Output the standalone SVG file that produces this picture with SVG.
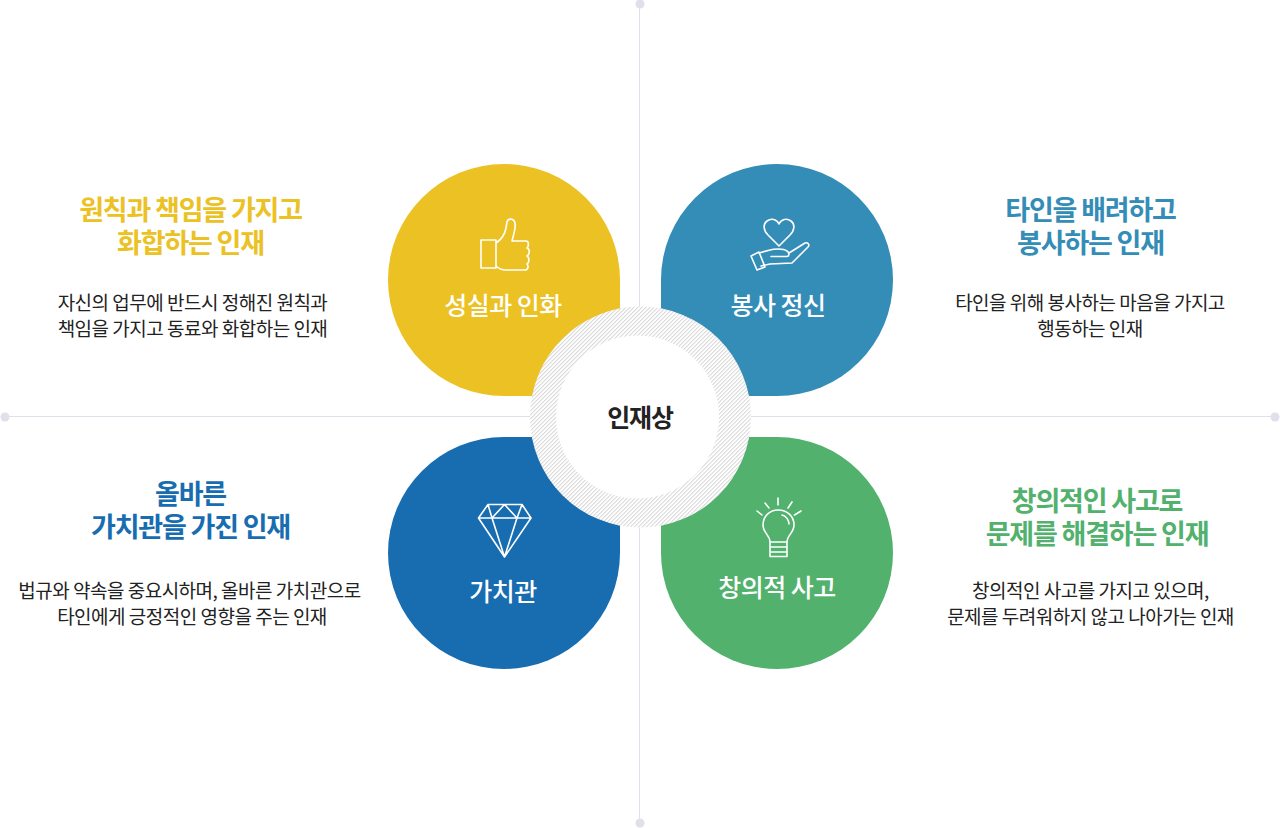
<svg xmlns="http://www.w3.org/2000/svg" width="1280" height="828" viewBox="0 0 1280 828">
<style>
text{font-family:"Noto Sans CJK KR","Noto Sans",sans-serif;text-anchor:middle}
.h{font-size:27px;font-weight:700;letter-spacing:-1.2px}
.b{font-size:19px;fill:#222;letter-spacing:-.5px}
.n{font-size:25px;fill:#fff;font-weight:500;letter-spacing:-.5px}
.i{fill:none;stroke:#fff;stroke-width:1.6;stroke-linejoin:round;stroke-linecap:round}
.ax{stroke:#dfe0ea;stroke-width:1;fill:none}
.dot{fill:#dfe0ea}
</style>
<defs>
<pattern id="hatch" width="2.83" height="2.83" patternUnits="userSpaceOnUse" patternTransform="rotate(-45)">
<rect width="2.83" height="2.83" fill="#fff"/><rect width="2.83" height="1" fill="#d6d6d6"/>
</pattern>
</defs>
<g id="connectors">
<path class="ax" d="M639.5 4V823M5 416.500H1275"/>
<circle class="dot" cx="640" cy="4" r="4.500"/><circle class="dot" cx="640" cy="823" r="4.500"/>
<circle class="dot" cx="5" cy="417" r="4.500"/><circle class="dot" cx="1275" cy="417" r="4.500"/>
</g>
<g id="node-sincerity">
<path fill="#ebc123" d="M504 164A116 116 0 0 1 620 280V396H504A116 116 0 0 1 504 164Z"/>
<path class="i" d="M481 240H496V268H481ZM496 243C502 239 505 234 506 228L507 222C508 218 514 218 515 223C516 229 513 236 512 241H526C529 241 529 246 527 248C530 249 530 254 527 256C530 258 529 263 527 264C529 266 528 270 525 270H506C502 270 499 269 496 266"/>
<text class="n" x="503" y="315">성실과 인화</text>
<text class="h" x="190.500" y="220" fill="#ebc123">원칙과 책임을 가지고</text>
<text class="h" x="190.500" y="252.500" fill="#ebc123">화합하는 인재</text>
<text class="b" x="192.500" y="310">자신의 업무에 반드시 정해진 원칙과</text>
<text class="b" x="192.500" y="336">책임을 가지고 동료와 화합하는 인재</text>
</g>
<g id="node-service">
<path fill="#348db7" d="M777 164A116 116 0 0 1 777 396H661V280A116 116 0 0 1 777 164Z"/>
<path class="i" d="M779 246L768 235C763 230 763 224 767 221C771 218 777 219 779 224C781 219 787 218 791 221C795 224 795 230 790 235ZM759 253L770 250C773 249 783 248 787 251C789 252 790 256 787 256.500H771M789 253L805 243C808 242 810 245 808 247L792 263L770 264L761 266M751 256L759 252L765 267L757 270Z"/>
<text class="n" x="778" y="315">봉사 정신</text>
<text class="h" x="1090.500" y="220" fill="#348db7">타인을 배려하고</text>
<text class="h" x="1090.500" y="252.500" fill="#348db7">봉사하는 인재</text>
<text class="b" x="1090" y="310">타인을 위해 봉사하는 마음을 가지고</text>
<text class="b" x="1090" y="336">행동하는 인재</text>
</g>
<g id="node-values">
<path fill="#186db1" d="M504 437H620V553A116 116 0 0 1 388 553A116 116 0 0 1 504 437Z"/>
<path class="i" d="M488 504.500H522L531 518L504.500 557L478.500 518ZM478.500 518H531M488 504.500L492 518L504.500 557L517 518L522 504.500M492 518L504.500 504.500L517 518"/>
<text class="n" x="503" y="601">가치관</text>
<text class="h" x="190.500" y="504" fill="#186db1">올바른</text>
<text class="h" x="190.500" y="536.500" fill="#186db1">가치관을 가진 인재</text>
<text class="b" x="189.500" y="598">법규와 약속을 중요시하며, 올바른 가치관으로</text>
<text class="b" x="192" y="624">타인에게 긍정적인 영향을 주는 인재</text>
</g>
<g id="node-creative">
<path fill="#51b16d" d="M661 437H777A116 116 0 0 1 777 669A116 116 0 0 1 661 553Z"/>
<path class="i" d="M770 542C770 535 763 533 763 525C763 516 770 510 778 510C787 510 794 516 794 525C794 533 787 535 787 542ZM770 542H787V556.500H770ZM770 547H787M770 552H787M782 515C786 516 789 520 789 524M778 498V505M765 503L769 508M792 502L788 508M757 511L762 515M801 511L794.500 515"/>
<text class="n" x="777" y="597">창의적 사고</text>
<text class="h" x="1097" y="511" fill="#51b16d">창의적인 사고로</text>
<text class="h" x="1097" y="543.500" fill="#51b16d">문제를 해결하는 인재</text>
<text class="b" x="1090.500" y="598">창의적인 사고를 가지고 있으며,</text>
<text class="b" x="1090.500" y="624">문제를 두려워하지 않고 나아가는 인재</text>
</g>
<g id="node-center">
<circle cx="640.500" cy="417" r="110.500" fill="url(#hatch)"/>
<circle cx="637.500" cy="417" r="81.500" fill="#fff"/>
<text x="640" y="427" font-size="25" font-weight="700" fill="#222" letter-spacing="-1.200">인재상</text>
</g>
</svg>
